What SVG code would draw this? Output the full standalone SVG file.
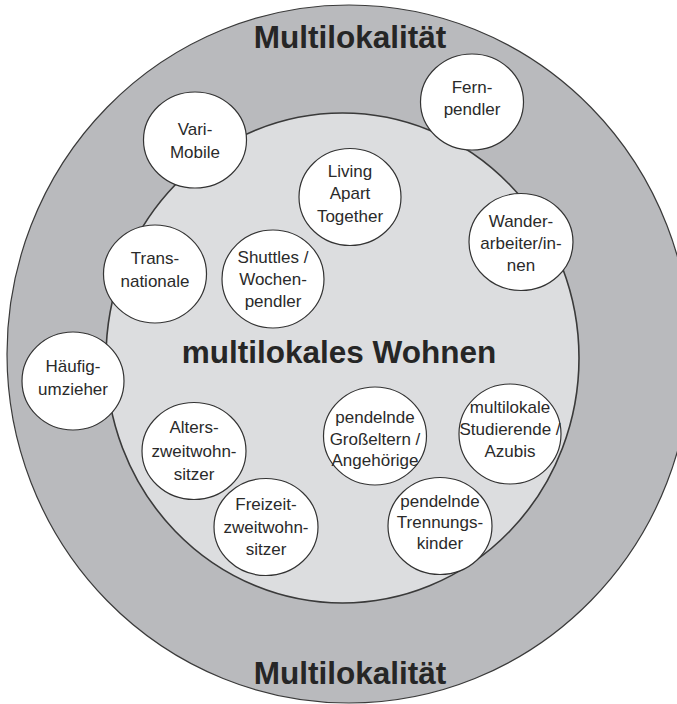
<svg xmlns="http://www.w3.org/2000/svg" width="677" height="704" viewBox="0 0 677 704">
<style>
.bg{fill:#ffffff}
.outer{fill:#b9babd;stroke:#3a3a3a;stroke-width:1.2}
.inner{fill:#dcdddf;stroke:#3a3a3a;stroke-width:1.6}
.node{fill:#ffffff;stroke:#333333;stroke-width:1.2}
.title{font-family:"Liberation Sans",Arial,sans-serif;font-weight:bold;font-size:31.5px;fill:#262626;text-anchor:middle}
.lbl{font-family:"Liberation Sans",Arial,sans-serif;font-size:17px;fill:#2a2a2a;text-anchor:middle}
</style>
<rect class="bg" x="0" y="0" width="677" height="704"/>
<g id="multilokalitaet">
<ellipse class="outer" cx="349" cy="354" rx="342" ry="349"/>
<text class="title" x="350" y="48">Multilokalität</text>
<text class="title" x="350" y="684">Multilokalität</text>
</g>
<g id="multilokales-wohnen">
<ellipse class="inner" cx="342.5" cy="358" rx="236.5" ry="245"/>
<text class="title" x="339" y="363">multilokales Wohnen</text>
</g>
<g id="connectors"></g>
<g id="fernpendler">
<ellipse class="node" cx="472" cy="102" rx="51.5" ry="48"/>
<text class="lbl" x="472" y="93">Fern-</text>
<text class="lbl" x="472" y="115">pendler</text>
</g>
<g id="varimobile">
<ellipse class="node" cx="195" cy="140" rx="51.5" ry="48"/>
<text class="lbl" x="195" y="135">Vari-</text>
<text class="lbl" x="195" y="158">Mobile</text>
</g>
<g id="lat">
<ellipse class="node" cx="350" cy="197" rx="51" ry="48.5"/>
<text class="lbl" x="350" y="177">Living</text>
<text class="lbl" x="350" y="199">Apart</text>
<text class="lbl" x="350" y="222">Together</text>
</g>
<g id="wanderarbeiter">
<ellipse class="node" cx="521" cy="242" rx="52" ry="48.5"/>
<text class="lbl" x="521" y="227">Wander-</text>
<text class="lbl" x="521" y="249">arbeiter/in-</text>
<text class="lbl" x="521" y="271">nen</text>
</g>
<g id="transnationale">
<ellipse class="node" cx="155" cy="274" rx="51.5" ry="49"/>
<text class="lbl" x="155" y="264">Trans-</text>
<text class="lbl" x="155" y="287">nationale</text>
</g>
<g id="shuttles">
<ellipse class="node" cx="273" cy="279" rx="51" ry="49"/>
<text class="lbl" x="273" y="263">Shuttles /</text>
<text class="lbl" x="273" y="285">Wochen-</text>
<text class="lbl" x="273" y="307">pendler</text>
</g>
<g id="haeufigumzieher">
<ellipse class="node" cx="73" cy="381" rx="51" ry="49"/>
<text class="lbl" x="73" y="372">Häufig-</text>
<text class="lbl" x="73" y="395">umzieher</text>
</g>
<g id="alterszweitwohnsitzer">
<ellipse class="node" cx="194" cy="451" rx="52" ry="48.5"/>
<text class="lbl" x="194" y="433">Alters-</text>
<text class="lbl" x="194" y="457">zweitwohn-</text>
<text class="lbl" x="194" y="480">sitzer</text>
</g>
<g id="freizeitzweitwohnsitzer">
<ellipse class="node" cx="266" cy="527" rx="52" ry="48.5"/>
<text class="lbl" x="266" y="510">Freizeit-</text>
<text class="lbl" x="266" y="533">zweitwohn-</text>
<text class="lbl" x="266" y="555">sitzer</text>
</g>
<g id="grosseltern">
<ellipse class="node" cx="375" cy="436" rx="51.5" ry="49"/>
<text class="lbl" x="375" y="423">pendelnde</text>
<text class="lbl" x="375" y="445">Großeltern /</text>
<text class="lbl" x="375" y="466">Angehörige</text>
</g>
<g id="studierende">
<ellipse class="node" cx="510" cy="434" rx="51" ry="50"/>
<text class="lbl" x="510" y="413">multilokale</text>
<text class="lbl" x="510" y="435">Studierende /</text>
<text class="lbl" x="510" y="457">Azubis</text>
</g>
<g id="trennungskinder">
<ellipse class="node" cx="440" cy="526" rx="52" ry="48.5"/>
<text class="lbl" x="440" y="507">pendelnde</text>
<text class="lbl" x="440" y="528">Trennungs-</text>
<text class="lbl" x="440" y="549">kinder</text>
</g>
</svg>
